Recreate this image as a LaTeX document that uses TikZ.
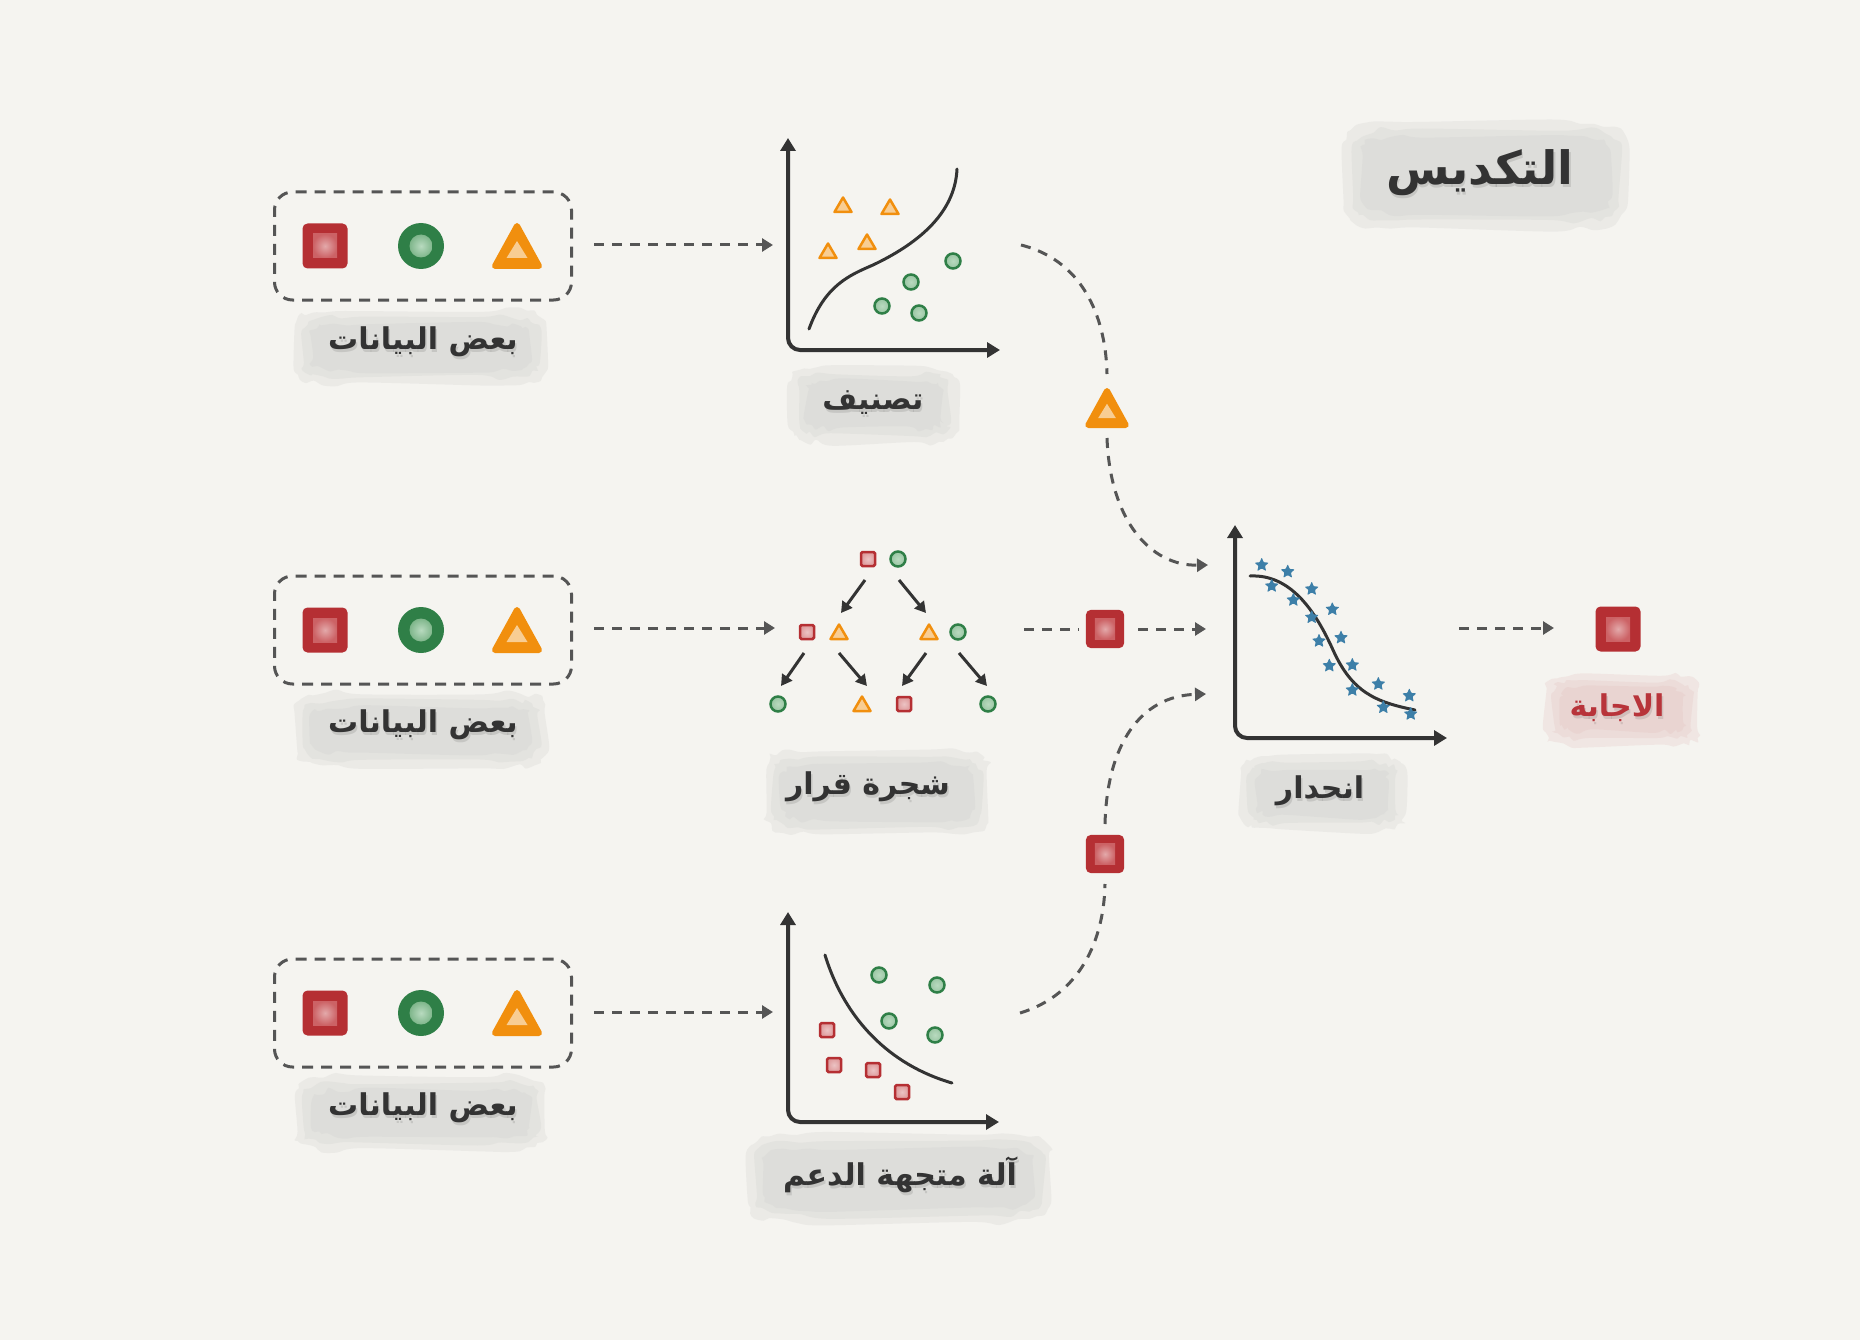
\documentclass[tikz,border=0pt]{standalone}
\usepackage{fontspec}
\newfontfamily\arfont[Script=Arabic]{DejaVu Sans}
\TeXXeTstate=1
\usetikzlibrary{arrows.meta,shapes.geometric,calc}
\definecolor{bgc}{HTML}{F5F4F0}
\definecolor{ink}{HTML}{333333}
\definecolor{dashc}{HTML}{555555}
\definecolor{sqred}{HTML}{B52F33}
\definecolor{sqinA}{HTML}{E3A9AA}
\definecolor{sqinB}{HTML}{CC6265}
\definecolor{cigreen}{HTML}{2F7F47}
\definecolor{ciinA}{HTML}{B8DABF}
\definecolor{ciinB}{HTML}{7FB68B}
\definecolor{trorange}{HTML}{F18F0E}
\definecolor{trinA}{HTML}{F8CD93}
\definecolor{starblue}{HTML}{3D7FA8}
\definecolor{blobg}{HTML}{D9D9D6}
\definecolor{blobp}{HTML}{E8CECB}
\definecolor{ansred}{HTML}{B8343A}
\tikzset{
  x=1pt, y=-1pt,
  databox/.style={draw=dashc, line width=3pt, dash pattern=on 11pt off 8pt, rounded corners=18pt, minimum width=297pt, minimum height=108pt},
  conn/.style={draw=dashc, line width=3pt, dash pattern=on 10pt off 8pt, -{Triangle[length=11pt,width=13pt]}},
  connplain/.style={draw=dashc, line width=3pt, dash pattern=on 10pt off 8pt},
  axes/.style={draw=ink, line width=4pt, rounded corners=12pt, {Triangle[length=13pt,width=15pt]}-{Triangle[length=13pt,width=15pt]}},
  curve/.style={draw=ink, line width=3pt, line cap=round},
  treearrow/.style={draw=ink, line width=3pt, -{Triangle[length=11pt,width=12pt]}},
  lbl/.style={font=\arfont\bfseries\fontsize{30}{34}\selectfont, text=ink},
  shadowlbl/.style={font=\arfont\bfseries\fontsize{30}{34}\selectfont, text=black, opacity=0.1},
  titlelbl/.style={font=\arfont\bfseries\fontsize{46}{52}\selectfont, text=ink},
  starmark/.style={star, star points=5, star point ratio=2.2, fill=starblue, minimum size=15pt, inner sep=0pt, rounded corners=0.8pt},
  bigsq/.pic={
    \fill[sqred, rounded corners=5pt] (-22.5,-22.5) rectangle (22.5,22.5);
    \shade[inner color=sqinA, outer color=sqinB] (-12,-12) rectangle (12,12);
  },
  bigci/.pic={
    \fill[cigreen] (0,0) circle (23);
    \shade[inner color=ciinA, outer color=ciinB] (0,0) circle (11.5);
  },
  bigtr/.pic={
    \filldraw[trorange, line width=6pt, line join=round] (0,-20) -- (22,20) -- (-22,20) -- cycle;
    \fill[trinA] (0,-5) -- (10.5,12) -- (-10.5,12) -- cycle;
  },
  smsq/.pic={
    \shade[inner color=sqinA!70!white, outer color=sqinA!80!sqinB] (-7,-7) rectangle (7,7);
    \draw[sqred, line width=2.5pt, rounded corners=1.5pt] (-7,-7) rectangle (7,7);
  },
  smci/.pic={
    \shade[inner color=ciinA, outer color=ciinB!80!white] (0,0) circle (7.5);
    \draw[cigreen, line width=2.5pt] (0,0) circle (7.5);
  },
  smtr/.pic={
    \filldraw[draw=trorange, fill=trinA, line width=2.5pt, line join=round] (0,-7.5) -- (8.5,7) -- (-8.5,7) -- cycle;
  }
}
% soft irregular blob: centre x, centre y, half width, half height, colour
\newcommand{\softblob}[5]{%
  \foreach \k/\op in {0/0.35,1/0.4,2/0.5}{%
    \fill[#5, opacity=\op] plot[smooth cycle, domain=5:355, samples=36, variable=\t]
      ({#1 + (#3 - 8*\k + 3*rand)*(cos(\t)>=0?1:-1)*pow(abs(cos(\t)),0.3)},
       {#2 + (#4 - 7*\k + 3*rand)*(sin(\t)>=0?1:-1)*pow(abs(sin(\t)),0.3)});
  }%
}
% label with faint shadow: name, x, y, text (already in \beginR..\endR), colour
\newcommand{\arlabel}[5]{%
  \node[shadowlbl] at ($(#2,#3)+(1.5,2.5)$) {#4};
  \node[lbl, text=#5] (#1) at (#2,#3) {#4};
}
\begin{document}
\begin{tikzpicture}
\pgfmathsetseed{11}
\fill[bgc] (0,0) rectangle (1860,1340);
\useasboundingbox (0,0) rectangle (1860,1340);

% ---------- blobs behind labels
\softblob{421}{347}{126}{38}{blobg}
\softblob{421}{730}{126}{38}{blobg}
\softblob{421}{1113}{126}{38}{blobg}
\softblob{874}{405}{84}{38}{blobg}
\softblob{877}{792}{112}{43}{blobg}
\softblob{899}{1178}{152}{45}{blobg}
\softblob{1323}{793}{82}{38}{blobg}
\softblob{1622}{710}{78}{36}{blobp}
\softblob{1486}{175}{142}{54}{blobg}

% ---------- title
\node[titlelbl, text=black, opacity=0.1] at (1481.5,176) {\beginR التكديس\endR};
\node[titlelbl] (title) at (1480,173) {\beginR التكديس\endR};

% ---------- data boxes and icons
\foreach \r/\yy in {1/246, 2/630, 3/1013}{
  \node[databox] (box\r) at (423,\yy) {};
  \pic at (325,\yy) {bigsq};
  \pic at (421,\yy) {bigci};
  \pic at (517,\yy) {bigtr};
}
\arlabel{lab1}{423}{342}{\beginR بعض البيانات\endR}{ink}
\arlabel{lab2}{423}{725}{\beginR بعض البيانات\endR}{ink}
\arlabel{lab3}{423}{1108}{\beginR بعض البيانات\endR}{ink}

% ---------- chart 1: classification
\coordinate (c1in) at (773,245);
\draw[axes] (788,138) -- (788,350) -- (1000,350);
\draw[curve] (809,329) .. controls (825,285) and (850,275) .. (873,265) .. controls (915,245) and (955,215) .. (957,169);
\pic at (843,205) {smtr};
\pic at (890,207) {smtr};
\pic at (867,242) {smtr};
\pic at (828,251) {smtr};
\pic at (953,261) {smci};
\pic at (911,282) {smci};
\pic at (882,306) {smci};
\pic at (919,313) {smci};
\arlabel{labc1}{873}{403}{\beginR تصنيف\endR}{ink}

% ---------- chart 2: decision tree
\coordinate (c2in) at (775,628);
\pic at (868,559) {smsq};
\pic at (898,559) {smci};
\coordinate (t0l) at (865,580); \coordinate (t1l) at (841,613);
\coordinate (t0r) at (899,580); \coordinate (t1r) at (926,613);
\draw[treearrow] (t0l) -- (t1l);
\draw[treearrow] (t0r) -- (t1r);
\pic at (807,632) {smsq};
\pic at (839,632) {smtr};
\pic at (929,632) {smtr};
\pic at (958,632) {smci};
\coordinate (a1) at (804,653); \coordinate (b1) at (781,686);
\coordinate (a2) at (839,653); \coordinate (b2) at (867,686);
\coordinate (a3) at (926,653); \coordinate (b3) at (902,686);
\coordinate (a4) at (959,653); \coordinate (b4) at (987,686);
\draw[treearrow] (a1) -- (b1);
\draw[treearrow] (a2) -- (b2);
\draw[treearrow] (a3) -- (b3);
\draw[treearrow] (a4) -- (b4);
\pic at (778,704) {smci};
\pic at (862,704) {smtr};
\pic at (904,704) {smsq};
\pic at (988,704) {smci};
\arlabel{labc2}{868}{787}{\beginR شجرة قرار\endR}{ink}

% ---------- chart 3: SVM
\coordinate (c3in) at (773,1012);
\draw[axes] (788,912) -- (788,1122) -- (999,1122);
\draw[curve] (825,955) .. controls (845,1020) and (890,1065) .. (952,1083);
\pic at (879,975) {smci};
\pic at (937,985) {smci};
\pic at (889,1021) {smci};
\pic at (935,1035) {smci};
\pic at (827,1030) {smsq};
\pic at (834,1065) {smsq};
\pic at (873,1070) {smsq};
\pic at (902,1092) {smsq};
\arlabel{labc3}{900}{1175}{\beginR آلة متجهة الدعم\endR}{ink}

% ---------- regression
\draw[axes] (1235,525) -- (1235,738) -- (1447,738);
\draw[curve] (1250,576) .. controls (1290,574) and (1315,610) .. (1333,650) .. controls (1352,692) and (1375,702) .. (1415,710);
\foreach \sx/\sy in {1261.7/565, 1287.7/571.7, 1271.7/586, 1311.7/589, 1293.3/600, 1332.3/609.3, 1311.7/617.3, 1341/637.7, 1319/641, 1352.3/665, 1329.3/665.7, 1378.3/684, 1352.3/690, 1409.3/695.7, 1383.3/707.3, 1410.7/714}
  \node[starmark] at (\sx,\sy) {};
\arlabel{labr}{1320}{791}{\beginR انحدار\endR}{ink}

% ---------- answer
\pic at (1618,629) {bigsq};
\arlabel{laba}{1617}{708}{\beginR الاجابة\endR}{ansred}

% ---------- connectors from data boxes
\draw[conn, shorten <=21pt] (box1.east |- c1in) -- (c1in);
\draw[conn, shorten <=21pt] (box2.east |- c2in) -- (c2in);
\draw[conn, shorten <=21pt] (box3.east |- c3in) -- (c3in);

% ---------- connectors to regression
\coordinate (k1s) at (1021,245);
\coordinate (m1) at (1107,408);
\coordinate (r1) at (1208,565);
\coordinate (k2s) at (1024,629);
\coordinate (m2) at (1105,629);
\coordinate (r2) at (1206,629);
\coordinate (k3s) at (1020,1013);
\coordinate (m3) at (1105,854);
\coordinate (r3) at (1206,694);

\draw[connplain] (k1s) .. controls (1088,262) and (1106,325) .. ($(m1)+(0,-34)$);
\draw[conn] ($(m1)+(0,30)$) .. controls (1110,520) and (1150,566) .. (r1);
\pic[scale=0.85] at (m1) {bigtr};

\draw[connplain] (k2s) -- ($(m2)+(-26,0)$);
\draw[conn] ($(m2)+(33,0)$) -- (r2);
\pic[scale=0.85] at (m2) {bigsq};

\draw[connplain] (k3s) .. controls (1080,995) and (1104,940) .. ($(m3)+(0,30)$);
\draw[conn] ($(m3)+(0,-30)$) .. controls (1107,745) and (1140,696) .. (r3);
\pic[scale=0.85] at (m3) {bigsq};

\coordinate (ans) at (1554,628);
\draw[conn] (1459,628) -- (ans);
\end{tikzpicture}
\end{document}
